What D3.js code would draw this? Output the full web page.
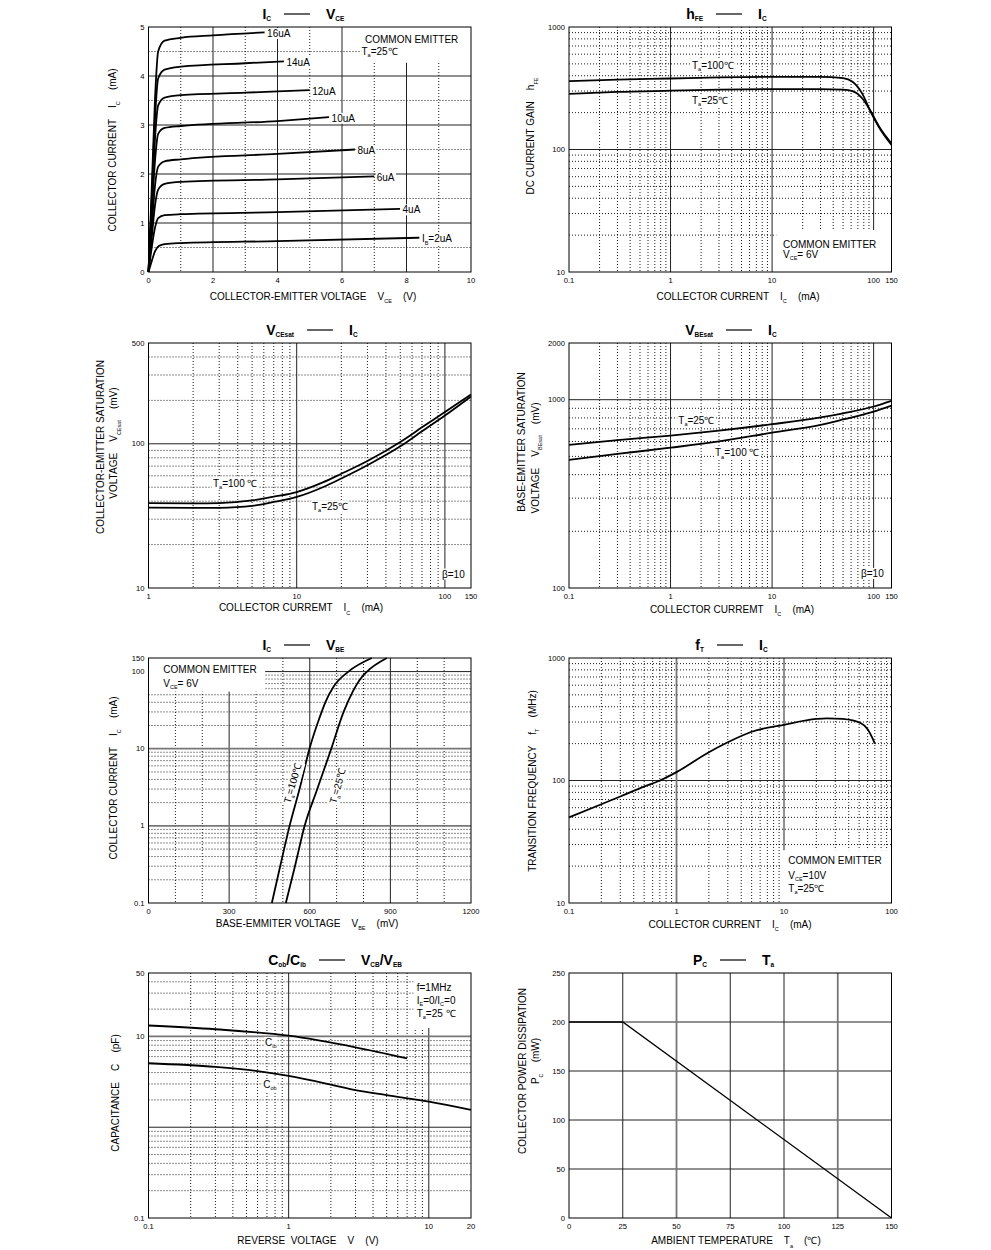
<html>
<head>
<script src="https://cdn.jsdelivr.net/npm/d3@7/dist/d3.min.js"></script>
<style>
body { margin: 0; background: #fff; }
text { font-family: Arial, "Liberation Sans", sans-serif; fill: #000; white-space: pre; }
.tick { font-size: 7.6px; }
.lab { font-size: 10px; }
.ttl { font-size: 14px; font-weight: bold; }
.dot { stroke: #000; stroke-width: 0.9; stroke-dasharray: 1 2; }
.maj { stroke: #222; stroke-width: 1; }
.heavy { stroke: #777; stroke-width: 1.8; }
.frame { fill: none; stroke: #000; stroke-width: 1; }
.curve { fill: none; stroke: #000; stroke-width: 1.8; }
</style>
</head>
<body>
<svg id="chart" width="991" height="1250"></svg>
<script>

// Ic - Vce (V, mA), one array per base current
var ib2  = [[0,0],[0.1,0.22],[0.2,0.42],[0.32,0.53],[0.5,0.57],[1,0.59],[4,0.63],[8.4,0.70]];
var ib4  = [[0,0],[0.1,0.5],[0.2,0.9],[0.3,1.1],[0.5,1.16],[1,1.18],[4,1.22],[7.8,1.29]];
var ib6  = [[0,0],[0.1,0.7],[0.2,1.35],[0.3,1.68],[0.5,1.8],[1,1.84],[4,1.89],[7.0,1.95]];
var ib8  = [[0,0],[0.1,0.9],[0.2,1.75],[0.3,2.15],[0.5,2.26],[1,2.30],[4,2.41],[6.4,2.50]];
var ib10 = [[0,0],[0.1,1.15],[0.2,2.25],[0.3,2.82],[0.5,2.94],[1,2.98],[4,3.08],[5.6,3.16]];
var ib12 = [[0,0],[0.1,1.35],[0.2,2.7],[0.3,3.4],[0.5,3.56],[1,3.61],[3,3.66],[5.0,3.71]];
var ib14 = [[0,0],[0.1,1.5],[0.2,3.1],[0.3,3.95],[0.5,4.13],[1,4.19],[3,4.26],[4.2,4.30]];
var ib16 = [[0,0],[0.1,1.7],[0.2,3.5],[0.3,4.5],[0.5,4.72],[1,4.78],[2,4.83],[3.6,4.89]];
var ibNames = ["I_{B}=2uA","4uA","6uA","8uA","10uA","12uA","14uA","16uA"];

// hFE - Ic (mA, -)
var hfe100 = [[0.1,362],[0.3,372],[1,380],[3,388],[10,392],[30,392],[50,383],[62,357],[77,287],[93,205],[113,152],[150,109]];
var hfe25  = [[0.1,284],[0.3,295],[1,302],[3,308],[10,311],[30,311],[50,308],[62,300],[77,262],[93,207],[113,154],[150,112]];

// VCEsat - Ic (mA, mV)
var vce100 = [[1,38.8],[2,38.6],[3,38.8],[5,40.5],[7,43],[10,46.3],[15,54],[20,62],[30,76],[50,103],[70,130],[100,166],[150,220]];
var vce25  = [[1,36.1],[2,35.9],[3,36],[5,37.1],[7,39.5],[10,42.8],[15,50],[20,57.5],[30,71],[50,96],[70,122],[100,157],[150,213]];

// VBEsat - Ic (mA, mV)
var vbe25  = [[0.1,575],[0.3,610],[1,645],[3,685],[10,741],[30,805],[50,847],[100,920],[150,986]];
var vbe100 = [[0.1,479],[0.3,515],[1,556],[3,600],[10,668],[30,735],[50,785],[100,865],[150,931]];

// Ic - VBE (mV, mA)
var ic100 = [[459,0.1],[490,0.3],[525,1],[562,3],[599,10],[636,25],[658,40],[689,64],[744,100],[831,150]];
var ic25  = [[511,0.1],[545,0.3],[581,1],[628,3],[680,10],[726,30],[760,55],[794,85],[813,100],[887,150]];

// fT - Ic (mA, MHz)
var ft = [[0.1,50],[0.2,64],[0.3,74],[0.5,89],[0.7,100],[1,117],[2,170],[3,205],[5,250],[10,285],[20,318],[25,322],[35,318],[52,293],[60,262],[66,225],[70,200]];

// Cob/Cib - V (V, pF)
var cib = [[0.1,13.2],[0.3,12.0],[1,10.2],[3,7.6],[7,5.75]];
var cob = [[0.1,5.07],[0.3,4.62],[0.6,4.15],[1,3.67],[2,2.95],[3,2.57],[5,2.26],[10,1.91],[20,1.55]];

// Pc - Ta (C, mW)
var pc = [[0,200],[25,200],[150,0]];

// tick labels
var p1x = [0,2,4,6,8,10],            p1y = [0,1,2,3,4,5];
var p2x = [0.1,1,10,100,150],        p2y = [10,100,1000];
var p3x = [1,10,100,150],            p3y = [10,100,500];
var p4x = [0.1,1,10,100,150],        p4y = [100,1000,2000];
var p5x = [0,300,600,900,1200],      p5y = [0.1,1,10,100,150];
var p6x = [0.1,1,10,100],            p6y = [10,100,1000];
var p7x = [0.1,1,10,20],             p7y = [0.1,10,50];
var p8x = [0,25,50,75,100,125,150],  p8y = [0,50,100,150,200,250];

var W = 322.5, H = 245;
var svg = d3.select("#chart");

function minors(lo, hi) {
    var out = [];
    for (var e = -2; e < 4; e++)
        for (var m = 2; m < 10; m++) {
            var v = +(m * Math.pow(10, e)).toPrecision(3);
            if (v > lo && v < hi) out.push(v);
        }
    return out;
}

function parts(s) {
    var out = [], re = /_\{([^}]*)\}/g, last = 0, m;
    while ((m = re.exec(s))) {
        if (m.index > last) out.push([s.slice(last, m.index), 0]);
        out.push([m[1], 1]);
        last = re.lastIndex;
    }
    if (last < s.length) out.push([s.slice(last), 0]);
    return out;
}

function rich(t, s, sub, drop) {
    var down = false;
    parts(s).forEach(function(p) {
        var ts = t.append("tspan").text(p[0]);
        if (p[1]) {
            ts.style("font-size", sub + "px");
            if (!down) { ts.attr("dy", drop); down = true; }
        } else if (down) { ts.attr("dy", -drop); down = false; }
    });
    return t;
}

function label(g, x, y, s, o) {
    o = o || {};
    var gg = g.append("g").attr("transform", "translate(" + x + "," + y + ")" + (o.rot ? " rotate(" + o.rot + ")" : ""));
    var t = gg.append("text").attr("class", "lab").attr("y", 3.6).attr("text-anchor", o.anchor || "start");
    rich(t, s, 5.5, 2.5);
    if (o.bg) {
        var b = t.node().getBBox();
        gg.insert("rect", "text").attr("x", b.x - 1).attr("y", b.y).attr("width", b.width + 2).attr("height", b.height).attr("fill", "#fff");
    }
}

var panels = [
  { left: 148.5, top: 27, xdom: [0,10], ydom: [0,5], xt: p1x, yt: p1y,
    xmaj: [2,4,6,8], xdot: [1,3,5,7,9], ymaj: [1,2,3,4], ydot: [0.5,1.5,2.5,3.5,4.5],
    boxes: [[6.6,10,4.27,5]],
    curves: [ib2,ib4,ib6,ib8,ib10,ib12,ib14,ib16], ends: ibNames,
    ann: [["COMMON EMITTER",216.5,12.4],["T_{a}=25\u2103",213,24.3]],
    title: ["I_{C}","V_{CE}"], tcx: 297,
    xlab: "COLLECTOR-EMITTER VOLTAGE    V_{CE}    (V)", xlx: 313, xly: 24,
    ylab: [["COLLECTOR CURRENT    I_{C}    (mA)", -36, 123]] },
  { left: 569, top: 27, xlog: 1, ylog: 1, xdom: [0.1,150], ydom: [10,1000], xt: p2x, yt: p2y,
    xmaj: [1,10,100], xdot: minors(0.1,150), ymaj: [100], ydot: minors(10,1000),
    boxes: [[11,150,10,22]],
    curves: [hfe100, hfe25],
    labs: [["T_{a}=100\u2103",123,38],["T_{a}=25\u2103",123,73]],
    ann: [["COMMON EMITTER",214,217],["V_{CE}= 6V",214,227]],
    title: ["h_{FE}","I_{C}"], tcx: 729,
    xlab: "COLLECTOR CURRENT    I_{C}    (mA)", xlx: 738, xly: 24,
    ylab: [["DC CURRENT GAIN    h_{FE}", -38.5, 109]] },
  { left: 148.5, top: 343, xlog: 1, ylog: 1, xdom: [1,150], ydom: [10,500], xt: p3x, yt: p3y,
    xmaj: [10,100], xdot: minors(1,150), ymaj: [100], ydot: minors(10,500),
    curves: [vce100, vce25],
    labs: [["T_{a}=100 \u2103",64.5,140],["T_{a}=25\u2103",163.5,163],["\u03b2=10",293.5,231]],
    title: ["V_{CEsat}","I_{C}"], tcx: 320,
    xlab: "COLLECTOR CURREMT    I_{C}    (mA)", xlx: 301, xly: 19.5,
    ylab: [["COLLECTOR-EMITTER SATURATION", -48.5, 104],["VOLTAGE    V_{CEsat}    (mV)", -35, 100]] },
  { left: 569, top: 343, xlog: 1, ylog: 1, xdom: [0.1,150], ydom: [100,2000], xt: p4x, yt: p4y,
    xmaj: [1,10,100], xdot: minors(0.1,150), ymaj: [1000], ydot: minors(100,1000),
    curves: [vbe25, vbe100],
    labs: [["T_{a}=25\u2103",109.3,77],["T_{a}=100 \u2103",146,109.7],["\u03b2=10",292,230.3]],
    title: ["V_{BEsat}","I_{C}"], tcx: 739,
    xlab: "COLLECTOR CURREMT    I_{C}    (mA)", xlx: 732, xly: 21,
    ylab: [["BASE-EMITTER SATURATION", -48, 99],["VOLTAGE    V_{BEsat}    (mV)", -34, 115]] },
  { left: 148.5, top: 658, ylog: 1, xdom: [0,1200], ydom: [0.1,150], xt: p5x, yt: p5y,
    xmaj: [300,600,900], xdot: [100,200,400,500,700,800,1000,1100], ymaj: [100], yheavy: [1,10], ydot: minors(0.1,150),
    boxes: [[0,434,55,150]],
    curves: [ic100, ic25],
    rlabs: [["T_{a}=100\u2103",144,125],["T_{a}=25\u2103",189,128]],
    ann: [["COMMON EMITTER",14.8,11.3],["V_{CE}= 6V",14.8,25.3]],
    title: ["I_{C}","V_{BE}"], tcx: 297,
    xlab: "BASE-EMMITER VOLTAGE    V_{BE}    (mV)", xlx: 307, xly: 20,
    ylab: [["COLLECTOR CURRENT    I_{C}    (mA)", -35, 120]] },
  { left: 569, top: 658, xlog: 1, ylog: 1, xdom: [0.1,100], ydom: [10,1000], xt: p6x, yt: p6y,
    xmaj: [10], xheavy: [1], xdot: minors(0.1,100), ymaj: [100], ydot: minors(10,1000),
    boxes: [[9.6,100,10,27]],
    curves: [ft],
    ann: [["COMMON EMITTER",219.3,202],["V_{CE}=10V",219.3,217],["T_{a}=25\u2103",219.3,230.3]],
    title: ["f_{T}","I_{C}"], tcx: 730,
    xlab: "COLLECTOR CURRENT    I_{C}    (mA)", xlx: 730, xly: 21,
    ylab: [["TRANSITION FREQUENCY    f_{T}    (MHz)", -37, 123]] },
  { left: 148.5, top: 973, xlog: 1, ylog: 1, xdom: [0.1,20], ydom: [0.1,50], xt: p7x, yt: p7y,
    xmaj: [1,10], xdot: minors(0.1,20), ymaj: [1], yheavy: [10], ydot: minors(0.1,50),
    boxes: [[7.8,20,12.4,50]],
    curves: [cib, cob],
    labs: [["C_{ib}",116.5,69.3],["C_{ob}",114.8,111.3]],
    ann: [["f=1MHz",268.2,14],["I_{E}=0/I_{C}=0",268.2,27],["T_{a}=25 \u2103",268.2,40.3]],
    title: ["C_{ob}/C_{ib}","V_{CB}/V_{EB}"], tcx: 332,
    xlab: "REVERSE  VOLTAGE    V    (V)", xlx: 308, xly: 22,
    ylab: [["CAPACITANCE    C    (pF)", -33.5, 120]] },
  { left: 569, top: 973, xdom: [0,150], ydom: [0,250], xt: p8x, yt: p8y,
    xmaj: [25,75,100], xheavy: [50,125], xdot: [], ymaj: [50,100,150,200], ydot: [],
    curves: [pc], thin: 1,
    title: ["P_{C}","T_{a}"], tcx: 733,
    xlab: "AMBIENT TEMPERATURE    T_{a}    (\u2103)", xlx: 736, xly: 22.5,
    ylab: [["COLLECTOR POWER DISSIPATION", -47, 98],["P_{C}    (mW)", -33.5, 88]] }
];

function vlines(g, vals, x, cls) {
    g.selectAll(null).data(vals || []).enter().append("line").attr("class", cls)
        .attr("x1", function(d) { return x(d); }).attr("x2", function(d) { return x(d); })
        .attr("y1", 0).attr("y2", H);
}
function hlines(g, vals, y, cls) {
    g.selectAll(null).data(vals || []).enter().append("line").attr("class", cls)
        .attr("y1", function(d) { return y(d); }).attr("y2", function(d) { return y(d); })
        .attr("x1", 0).attr("x2", W);
}

function draw_panel(p) {
    var g = svg.append("g").attr("transform", "translate(" + p.left + "," + p.top + ")");
    var x = (p.xlog ? d3.scaleLog() : d3.scaleLinear()).domain(p.xdom).range([0, W]);
    var y = (p.ylog ? d3.scaleLog() : d3.scaleLinear()).domain(p.ydom).range([H, 0]);

    vlines(g, p.xdot, x, "dot");
    hlines(g, p.ydot, y, "dot");
    vlines(g, p.xmaj, x, "maj");
    hlines(g, p.ymaj, y, "maj");
    vlines(g, p.xheavy, x, "heavy");
    hlines(g, p.yheavy, y, "heavy");

    (p.boxes || []).forEach(function(b) {
        g.append("rect").attr("fill", "#fff")
            .attr("x", x(b[0])).attr("width", x(b[1]) - x(b[0]))
            .attr("y", y(b[3])).attr("height", y(b[2]) - y(b[3]));
    });

    var line = d3.line().x(function(d) { return x(d[0]); }).y(function(d) { return y(d[1]); })
        .curve(p.thin ? d3.curveLinear : d3.curveMonotoneX);
    g.selectAll(".curve").data(p.curves).enter().append("path")
        .attr("class", "curve").attr("d", line)
        .style("stroke-width", p.thin ? 1.3 : 1.8);

    if (p.ends) p.curves.forEach(function(c, i) {
        var e = c[c.length - 1];
        label(g, x(e[0]) + 2.5, y(e[1]) + 1, p.ends[i], { bg: 1 });
    });
    (p.labs || []).forEach(function(l) { label(g, l[1], l[2], l[0], { bg: 1 }); });
    (p.rlabs || []).forEach(function(l) { label(g, l[1], l[2], l[0], { rot: -74, anchor: "middle", bg: 1 }); });
    (p.ann || []).forEach(function(l) { label(g, l[1], l[2], l[0]); });

    g.append("rect").attr("class", "frame").attr("width", W).attr("height", H);

    g.selectAll(".xt").data(p.xt).enter().append("text").attr("class", "tick")
        .attr("x", function(d) { return x(d); }).attr("y", H + 11).attr("text-anchor", "middle")
        .text(function(d) { return d; });
    g.selectAll(".yt").data(p.yt).enter().append("text").attr("class", "tick")
        .attr("x", -4).attr("y", function(d) { return y(d) + 2.6; }).attr("text-anchor", "end")
        .text(function(d) { return d; });

    rich(svg.append("text").attr("class", "lab").attr("text-anchor", "middle")
        .attr("x", p.xlx).attr("y", p.top + H + p.xly + 3.6), p.xlab, 5.5, 3.5);
    p.ylab.forEach(function(l) {
        rich(g.append("text").attr("class", "lab").attr("text-anchor", "middle")
            .attr("transform", "translate(" + (l[1] + 3.6) + "," + l[2] + ") rotate(-90)"), l[0], 5.5, 3.5);
    });

    var ty = p.top - 8;
    rich(svg.append("text").attr("class", "ttl").attr("text-anchor", "end")
        .attr("x", p.tcx - 26).attr("y", ty), p.title[0], 6.5, 2);
    svg.append("line").attr("x1", p.tcx - 13).attr("x2", p.tcx + 13)
        .attr("y1", ty - 5).attr("y2", ty - 5).attr("stroke", "#000").attr("stroke-width", 1.2);
    rich(svg.append("text").attr("class", "ttl").attr("text-anchor", "start")
        .attr("x", p.tcx + 29).attr("y", ty), p.title[1], 6.5, 2);
}

panels.forEach(draw_panel);

</script>
</body>
</html>
